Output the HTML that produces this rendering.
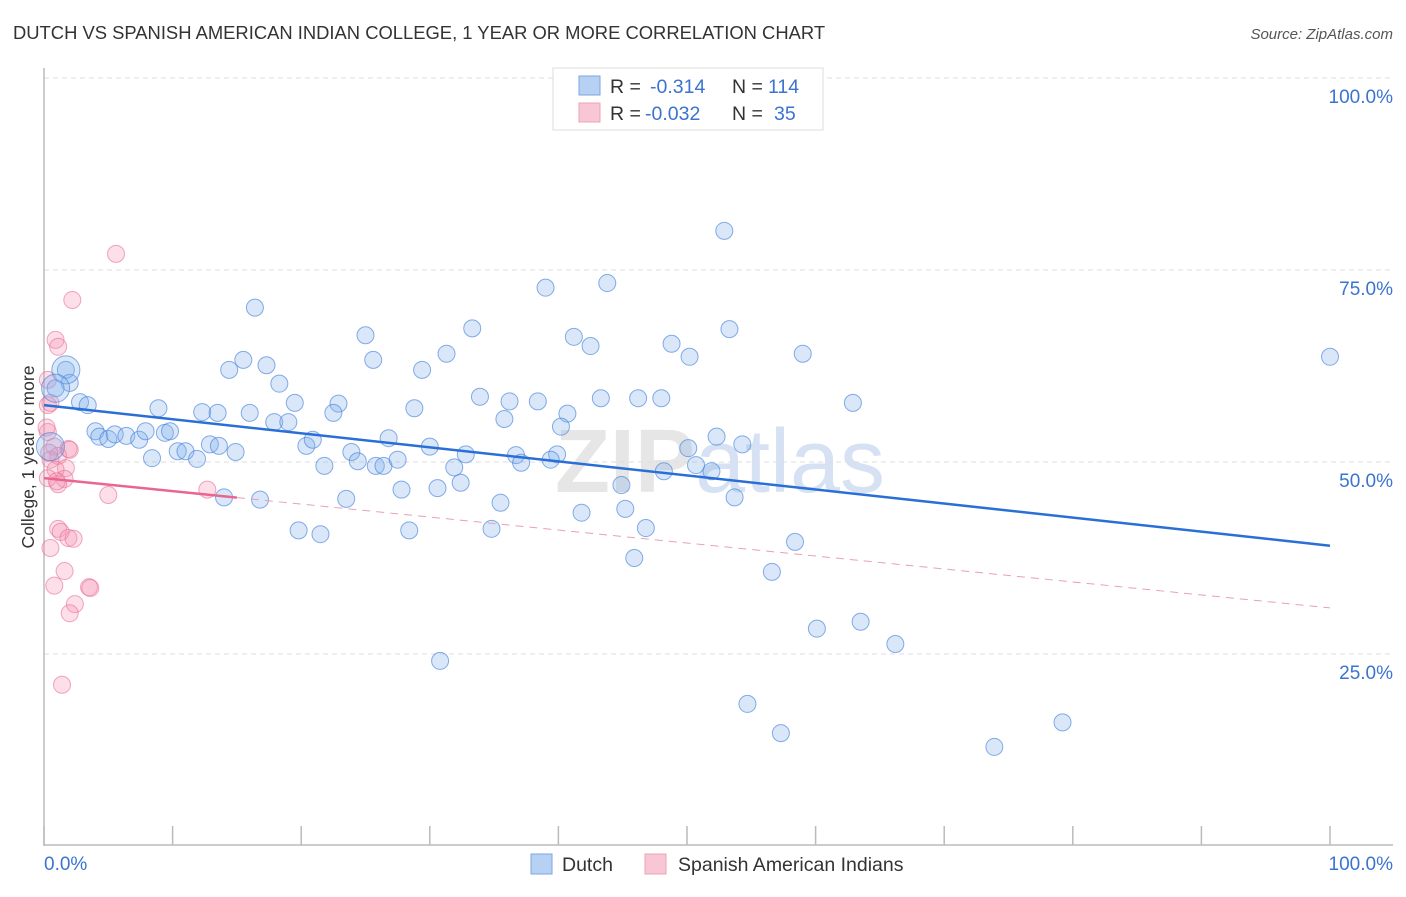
<!DOCTYPE html>
<html><head><meta charset="utf-8"><style>
body{margin:0;background:#fff;font-family:"Liberation Sans",sans-serif}
svg text{font-family:"Liberation Sans",sans-serif}
</style></head><body>
<svg id="chart" width="1406" height="892" xmlns="http://www.w3.org/2000/svg">
<text x="13" y="39" font-size="18.4" fill="#333">DUTCH VS SPANISH AMERICAN INDIAN COLLEGE, 1 YEAR OR MORE CORRELATION CHART</text>
<text x="1393" y="39" font-size="15" fill="#555" font-style="italic" text-anchor="end">Source: ZipAtlas.com</text>
<text x="720" y="492" font-size="90" fill="#e6e6e6" font-weight="bold" text-anchor="middle" font-family="Liberation Serif">ZIP<tspan font-weight="normal" font-family="Liberation Sans" fill="#d6e2f3">atlas</tspan></text>
<g id="grid"></g>
<g id="axes"></g>
<g id="pink"></g>
<g id="blue"></g>
<g id="lines"></g>
<text transform="translate(34,457) rotate(-90)" font-size="17.5" fill="#333" text-anchor="middle">College, 1 year or more</text>
<g>
<rect x="553" y="68" width="270" height="62" fill="#fff" stroke="#ddd"/>
<rect x="579" y="76" width="21" height="19" fill="#b7d1f4" stroke="#7ea6e0"/>
<rect x="579" y="103" width="21" height="19" fill="#f9c6d5" stroke="#eba3b9"/>
<text x="610" y="93" font-size="19.5" fill="#333">R = </text><text x="650" y="93" font-size="19.5" fill="#3b73d1">-0.314</text>
<text x="732" y="93" font-size="19.5" fill="#333">N = </text><text x="768" y="93" font-size="19.5" fill="#3b73d1">114</text>
<text x="610" y="120" font-size="19.5" fill="#333">R = </text><text x="645" y="120" font-size="19.5" fill="#3b73d1">-0.032</text>
<text x="732" y="120" font-size="19.5" fill="#333">N = </text><text x="774" y="120" font-size="19.5" fill="#3b73d1">35</text>
</g>
<g>
<rect x="531" y="854" width="21" height="20" fill="#b7d1f4" stroke="#7ea6e0"/>
<text x="562" y="871" font-size="19.5" fill="#333">Dutch</text>
<rect x="645" y="854" width="21" height="20" fill="#f9c6d5" stroke="#eba3b9"/>
<text x="678" y="871" font-size="19.5" fill="#333">Spanish American Indians</text>
</g>
</svg>
<script>
const yTicks=[25,50,75,100];
const yTickLabels=["25.0%","50.0%","75.0%","100.0%"];
const xTickLabels=["0.0%","100.0%"];
const blueX=[52.9,16.4,39.0,43.8,25.0,33.3,41.2,42.5,53.3,48.8,50.2,59.0,100,15.5,17.3,14.4,25.6,31.3,29.4,18.3,1.7,2.0,0.9,2.8,3.4,8.9,12.3,13.5,16.0,19.5,22.9,22.5,28.8,33.9,36.2,38.4,43.3,46.2,48.0,62.9,35.8,40.7,40.2,17.9,19.0,4.0,4.3,5.0,5.5,6.4,7.4,7.9,9.4,9.8,12.9,13.6,10.4,11.0,14.9,11.9,8.4,20.4,20.9,26.8,30.0,23.9,24.4,21.8,25.8,26.4,27.5,32.8,31.9,36.7,37.1,39.9,39.4,52.3,54.3,50.1,50.7,48.2,51.9,32.4,30.6,27.8,44.9,53.7,14.0,16.8,23.5,35.5,41.8,45.2,46.8,19.8,21.5,28.4,34.8,45.9,58.4,56.6,60.1,63.5,66.2,30.8,54.7,57.3,73.9,79.2];
const blueY=[80.1,70.1,72.7,73.3,66.5,67.4,66.3,65.1,67.3,65.4,63.7,64.1,63.7,63.3,62.6,62.0,63.3,64.1,62.0,60.2,62.0,60.3,59.6,57.8,57.4,57.0,56.5,56.4,56.4,57.7,57.6,56.4,57.0,58.5,57.9,57.9,58.3,58.3,58.3,57.7,55.6,56.3,54.6,55.2,55.2,54.0,53.3,53.0,53.6,53.4,52.9,54.0,53.8,54.0,52.3,52.1,51.4,51.4,51.3,50.4,50.5,52.1,52.9,53.1,52.0,51.3,50.1,49.5,49.5,49.5,50.3,51.0,49.3,50.9,49.9,51.0,50.3,53.3,52.3,51.8,49.6,48.8,48.8,47.3,46.6,46.4,47.0,45.4,45.4,45.1,45.2,44.7,43.4,43.9,41.4,41.1,40.6,41.1,41.3,37.5,39.6,35.7,28.3,29.2,26.3,24.1,18.5,14.7,12.9,16.1];
const blueBig=[1.7,0.9,0.5];
const blueBigY=[62.0,59.6,52.0];
const pinkX=[5.6,2.2,0.9,1.1,0.3,0.3,0.5,0.3,0.8,1.9,1.1,0.5,1.7,0.9,0.3,1.6,1.1,5.0,12.7,1.1,1.3,1.9,2.3,0.5,1.6,0.8,3.5,3.6,2.4,2.0,1.4,0.4,1.0,0.2,2.0];
const pinkY=[77.1,71.1,65.9,65.0,60.7,57.4,57.7,53.9,52.0,51.7,50.8,50.3,49.2,49.0,47.9,47.8,47.1,45.7,46.4,41.3,40.9,40.1,40.0,38.8,35.8,33.9,33.7,33.6,31.5,30.3,21.0,51.2,47.5,54.5,51.6];
const blueTrend=[57.4,39.1];
const pinkTrend=[47.9,31.0];
const pinkSolidEnd=15;

const NS="http://www.w3.org/2000/svg";
const X=v=>44+v*12.86, Y=v=>846-v*7.68;
function mk(tag,attrs,parent){const e=document.createElementNS(NS,tag);for(const k in attrs)e.setAttribute(k,attrs[k]);document.getElementById(parent).appendChild(e);return e;}
yTicks.forEach((t,i)=>{
 const l=mk('line',{x1:44,x2:1393,y1:Y(t),y2:Y(t),stroke:'#ddd','stroke-dasharray':'5,4'},'grid');
 
 
 const tx=mk('text',{x:1393,y:Y(t)+25,'font-size':19,fill:'#3b73d1','text-anchor':'end'},'grid');
 tx.textContent=yTickLabels[i];
 
 
});
mk('line',{x1:44,x2:44,y1:68,y2:846,stroke:'#bbb','stroke-width':1.5},'axes');
mk('line',{x1:44,x2:1393,y1:845,y2:845,stroke:'#bbb','stroke-width':1.5},'axes');
for(let i=0;i<=10;i++){const t=mk('line',{x1:X(i*10),x2:X(i*10),y1:826,y2:845,stroke:'#bbb','stroke-width':1.5},'axes');}
[[0,'start'],[100,'end']].forEach((d,i)=>{const t=mk('text',{x:d[0]?1393:44,y:870,'font-size':19,fill:'#3b73d1','text-anchor':d[1]},'axes');t.textContent=xTickLabels[i];});
pinkX.forEach((v,i)=>{const c=mk('circle',{cx:X(v),cy:Y(pinkY[i]),r:8.5,fill:'rgba(244,150,180,0.3)',stroke:'rgba(232,110,150,0.6)','stroke-width':1},'pink');
 
 });
blueX.forEach((v,i)=>{const c=mk('circle',{cx:X(v),cy:Y(blueY[i]),r:8.5,fill:'rgba(130,175,235,0.3)',stroke:'rgba(70,130,220,0.65)','stroke-width':1},'blue');
 
 });
blueBig.forEach((v,i)=>{const c=mk('circle',{cx:X(v),cy:Y(blueBigY[i]),r:14,fill:'rgba(130,175,235,0.3)',stroke:'rgba(70,130,220,0.65)','stroke-width':1},'blue');
 
 });
const bl=mk('line',{x1:X(0),y1:Y(blueTrend[0]),x2:X(100),y2:Y(blueTrend[1]),stroke:'#2a6fd6','stroke-width':2.5},'lines');


const pe=pinkTrend[0]+(pinkTrend[1]-pinkTrend[0])*pinkSolidEnd/100;
const ps=mk('line',{x1:X(0),y1:Y(pinkTrend[0]),x2:X(pinkSolidEnd),y2:Y(pe),stroke:'#e8678f','stroke-width':2.5},'lines');


const pd=mk('line',{x1:X(pinkSolidEnd),y1:Y(pe),x2:X(100),y2:Y(pinkTrend[1]),stroke:'#e8a0b8','stroke-width':1,'stroke-dasharray':'8,6'},'lines');


</script>
</body></html>
